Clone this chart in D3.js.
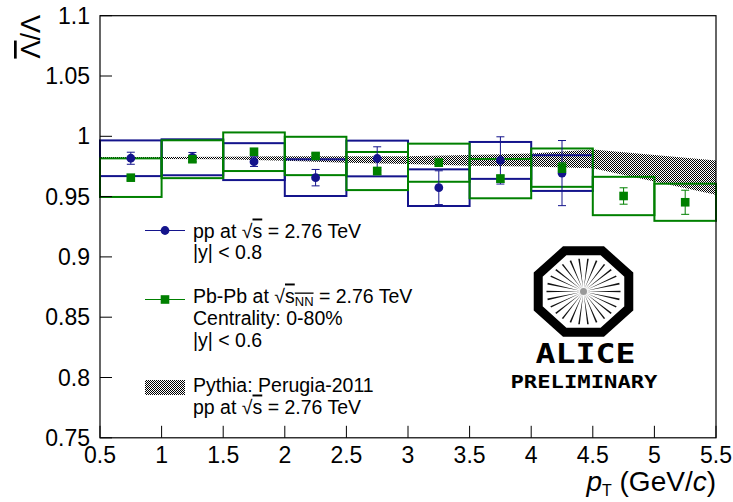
<!DOCTYPE html>
<html>
<head>
<meta charset="utf-8">
<script src="https://cdn.jsdelivr.net/npm/d3@7"></script>
<style>
  body { margin: 0; background: #fff; }
  text { font-family: "Liberation Sans", Arial, Helvetica, sans-serif; }
</style>
</head>
<body>
<div id="chart"></div>
<script>
// bin centres (GeV/c) and values
const ppCentres = [0.75, 1.25, 1.75, 2.25, 2.75, 3.25, 3.75, 4.25];
const ppValues  = [0.9818, 0.9826, 0.9790, 0.9657, 0.9816, 0.9574, 0.9800, 0.9695];
const ppStat    = [0.0050, 0.0040, 0.0040, 0.0068, 0.0097, 0.0140, 0.0196, 0.0270];
const ppSys     = [0.0148, 0.0149, 0.0153, 0.0152, 0.0148, 0.0152, 0.0153, 0.0148];

const pbCentres = [0.75, 1.25, 1.75, 2.25, 2.75, 3.25, 3.75, 4.25, 4.75, 5.25];
const pbValues  = [0.9657, 0.9810, 0.9872, 0.9837, 0.9712, 0.9781, 0.9649, 0.9740, 0.9505, 0.9453];
const pbStat    = [0.0020, 0.0020, 0.0020, 0.0020, 0.0030, 0.0030, 0.0030, 0.0040, 0.0068, 0.0100];
const pbSys     = [0.0160, 0.0157, 0.0160, 0.0159, 0.0158, 0.0158, 0.0163, 0.0159, 0.0159, 0.0154];

// Pythia Perugia-2011 band
const pythiaPt   = [0.5, 1.0, 1.5, 2.0, 2.5, 3.0, 3.5, 4.0, 4.5, 5.0, 5.5];
const pythiaLow  = [0.9812, 0.9812, 0.9810, 0.9798, 0.9780, 0.9770, 0.9755, 0.9750, 0.9735, 0.9625, 0.9515];
const pythiaHigh = [0.9828, 0.9828, 0.9830, 0.9835, 0.9835, 0.9835, 0.9845, 0.9858, 0.9890, 0.9845, 0.9800];

const xTicks = [0.5, 1, 1.5, 2, 2.5, 3, 3.5, 4, 4.5, 5, 5.5];
const yTicks = [0.75, 0.8, 0.85, 0.9, 0.95, 1, 1.05, 1.1];

const binHalf = 0.25;
const blue = "#14148c", green = "#008000";

const W = 733, H = 502;
const svg = d3.select("#chart").append("svg")
    .attr("width", W).attr("height", H)
    .style("display", "block");

const x = d3.scaleLinear().domain([0.5, 5.5]).range([100, 716]);
const y = d3.scaleLinear().domain([0.75, 1.1]).range([437.8, 15.7]);

// hatch pattern for the band
const defs = svg.append("defs");
const pat = defs.append("pattern").attr("id", "hatch")
    .attr("width", 2).attr("height", 2).attr("patternUnits", "userSpaceOnUse");
pat.append("rect").attr("width", 2).attr("height", 2).attr("fill", "#fff");
pat.append("rect").attr("x", 0).attr("y", 0).attr("width", 1).attr("height", 1).attr("fill", "#000");
pat.append("rect").attr("x", 1).attr("y", 1).attr("width", 1).attr("height", 1).attr("fill", "#000");

// Pythia band
const band = pythiaPt.map((p, i) => ({pt: p, lo: pythiaLow[i], hi: pythiaHigh[i]}));
svg.append("path")
    .datum(band)
    .attr("d", d3.area().x(d => x(d.pt)).y0(d => y(d.lo)).y1(d => y(d.hi)))
    .attr("fill", "url(#hatch)");

// systematic boxes
function boxes(centres, values, sys, colour) {
    svg.append("g").selectAll("rect")
        .data(centres.map((c, i) => ({c, v: values[i], s: sys[i]})))
        .join("rect")
        .attr("x", d => x(d.c - binHalf))
        .attr("y", d => y(d.v + d.s))
        .attr("width", d => x(d.c + binHalf) - x(d.c - binHalf))
        .attr("height", d => y(d.v - d.s) - y(d.v + d.s))
        .attr("fill", "none")
        .attr("stroke", colour)
        .attr("stroke-width", 2);
}
boxes(ppCentres, ppValues, ppSys, blue);
boxes(pbCentres, pbValues, pbSys, green);

// stat errors + markers
function points(centres, values, stat, colour, shape) {
    const g = svg.append("g");
    const data = centres.map((c, i) => ({c, v: values[i], e: stat[i]}));
    g.selectAll("line.err").data(data).join("line")
        .attr("x1", d => x(d.c)).attr("x2", d => x(d.c))
        .attr("y1", d => y(d.v + d.e)).attr("y2", d => y(d.v - d.e))
        .attr("stroke", colour).attr("stroke-width", 1);
    [1, -1].forEach(sgn => {
        g.selectAll("line.cap" + sgn).data(data).join("line")
            .attr("x1", d => x(d.c) - 4).attr("x2", d => x(d.c) + 4)
            .attr("y1", d => y(d.v + sgn * d.e)).attr("y2", d => y(d.v + sgn * d.e))
            .attr("stroke", colour).attr("stroke-width", 1);
    });
    if (shape === "circle") {
        g.selectAll("circle").data(data).join("circle")
            .attr("cx", d => x(d.c)).attr("cy", d => y(d.v))
            .attr("r", 4.4).attr("fill", colour);
    } else {
        g.selectAll("rect").data(data).join("rect")
            .attr("x", d => x(d.c) - 4.3).attr("y", d => y(d.v) - 4.3)
            .attr("width", 8.6).attr("height", 8.6).attr("fill", colour);
    }
}
points(ppCentres, ppValues, ppStat, blue, "circle");
points(pbCentres, pbValues, pbStat, green, "square");

// frame
svg.append("rect")
    .attr("x", x(0.5)).attr("y", y(1.1))
    .attr("width", x(5.5) - x(0.5)).attr("height", y(0.75) - y(1.1))
    .attr("fill", "none").attr("stroke", "#000").attr("stroke-width", 1.2);

// ticks
svg.append("g").selectAll("line").data(xTicks).join("line")
    .attr("x1", d => x(d)).attr("x2", d => x(d))
    .attr("y1", y(0.75)).attr("y2", y(0.75) - 12)
    .attr("stroke", "#000").attr("stroke-width", 1);
svg.append("g").selectAll("line").data(yTicks).join("line")
    .attr("x1", x(0.5)).attr("x2", x(0.5) + 12)
    .attr("y1", d => y(d)).attr("y2", d => y(d))
    .attr("stroke", "#000").attr("stroke-width", 1);

// tick labels
svg.append("g").selectAll("text").data(xTicks).join("text")
    .attr("x", d => x(d)).attr("y", 463)
    .attr("text-anchor", "middle")
    .style("font-size", "23px")
    .text(d => d);
svg.append("g").selectAll("text").data(yTicks).join("text")
    .attr("x", 90).attr("y", d => y(d) + 8)
    .attr("text-anchor", "end")
    .style("font-size", "23px")
    .text(d => d);

// axis titles
const xt = svg.append("text")
    .attr("x", 716).attr("y", 491)
    .attr("text-anchor", "end")
    .style("font-size", "28px");
xt.append("tspan").style("font-style", "italic").text("p");
xt.append("tspan").attr("dy", 5).style("font-size", "16px").text("T");
xt.append("tspan").attr("dy", -5).text(" (GeV/");
xt.append("tspan").style("font-style", "italic").text("c");
xt.append("tspan").text(")");

const yt = svg.append("text")
    .attr("transform", "translate(40,15) rotate(-90)")
    .attr("text-anchor", "end")
    .style("font-size", "27px");
yt.append("tspan").style("text-decoration", "overline").text("Λ");
yt.append("tspan").text("/Λ");

// legend
const leg = svg.append("g").style("font-size", "19.5px");
leg.append("line").attr("x1", 145).attr("x2", 185).attr("y1", 230.5).attr("y2", 230.5)
    .attr("stroke", blue).attr("stroke-width", 1);
leg.append("circle").attr("cx", 165).attr("cy", 230.5).attr("r", 4.4).attr("fill", blue);
let t = leg.append("text").attr("x", 193).attr("y", 237.5);
t.append("tspan").text("pp at √");
t.append("tspan").style("text-decoration", "overline").text("s");
t.append("tspan").text(" = 2.76 TeV");
leg.append("text").attr("x", 193).attr("y", 258.5).text("|y| < 0.8");

leg.append("line").attr("x1", 145).attr("x2", 185).attr("y1", 299.5).attr("y2", 299.5)
    .attr("stroke", green).attr("stroke-width", 1);
leg.append("rect").attr("x", 160.7).attr("y", 295.2).attr("width", 8.6).attr("height", 8.6).attr("fill", green);
t = leg.append("text").attr("x", 193).attr("y", 302.5);
t.append("tspan").text("Pb-Pb at √");
t.append("tspan").style("text-decoration", "overline").text("s");
t.append("tspan").attr("dy", 3).style("font-size", "13px").style("text-decoration", "overline").text("NN");
t.append("tspan").attr("dy", -3).text(" = 2.76 TeV");
leg.append("text").attr("x", 193).attr("y", 324.5).text("Centrality: 0-80%");
leg.append("text").attr("x", 193).attr("y", 346.5).text("|y| < 0.6");

leg.append("rect").attr("x", 145).attr("y", 380).attr("width", 40).attr("height", 15)
    .attr("fill", "url(#hatch)");
leg.append("text").attr("x", 193).attr("y", 391.5).text("Pythia: Perugia-2011");
t = leg.append("text").attr("x", 193).attr("y", 413.5);
t.append("tspan").text("pp at √");
t.append("tspan").style("text-decoration", "overline").text("s");
t.append("tspan").text(" = 2.76 TeV");

// ALICE logo
const logo = svg.append("g").attr("transform", "translate(583.5,291.5)");
const octR = 49;
const oct = d3.range(8).map(k => {
    const a = (22.5 + 45 * k) * Math.PI / 180;
    return [octR * Math.cos(a) * 1.0, octR * Math.sin(a) * 0.9];
});
logo.append("polygon").attr("points", oct.map(p => p.join(",")).join(" "))
    .attr("fill", "#fff").attr("stroke", "#000").attr("stroke-width", 9)
    .attr("stroke-linejoin", "miter");
const nSpokes = 26;
logo.selectAll("path.spoke").data(d3.range(nSpokes)).join("path")
    .attr("d", k => {
        const a = (k / nSpokes) * 2 * Math.PI;
        const r0 = 3, r1x = 37, r1y = 33;
        const ox = Math.cos(a), oy = Math.sin(a);
        const px = -oy, py = ox;
        const ex = ox * r1x, ey = oy * r1y;
        return `M${ox * r0},${oy * r0} L${ex + px * 0.8},${ey + py * 0.8} L${ex - px * 0.8},${ey - py * 0.8} Z`;
    })
    .attr("fill", "#111");
logo.append("circle").attr("r", 3.5).attr("fill", "#999");
logo.append("text").attr("x", -48).attr("y", 71.5)
    .attr("textLength", 100).attr("lengthAdjust", "spacingAndGlyphs")
    .style("font-family", "'DejaVu Sans Mono', monospace")
    .style("font-weight", "bold").style("font-size", "26px")
    .text("ALICE");
logo.append("text").attr("x", -73).attr("y", 96.5)
    .attr("textLength", 147).attr("lengthAdjust", "spacingAndGlyphs")
    .style("font-family", "'DejaVu Sans Mono', monospace")
    .style("font-weight", "bold").style("font-size", "17px")
    .text("PRELIMINARY");

// preliminary id, cut off at the bottom edge as in the original
svg.append("text").attr("x", -2).attr("y", 513)
    .style("font-size", "14px").attr("fill", "#aaa")
    .text("ALI-PREL-35920");
</script>
</body>
</html>
